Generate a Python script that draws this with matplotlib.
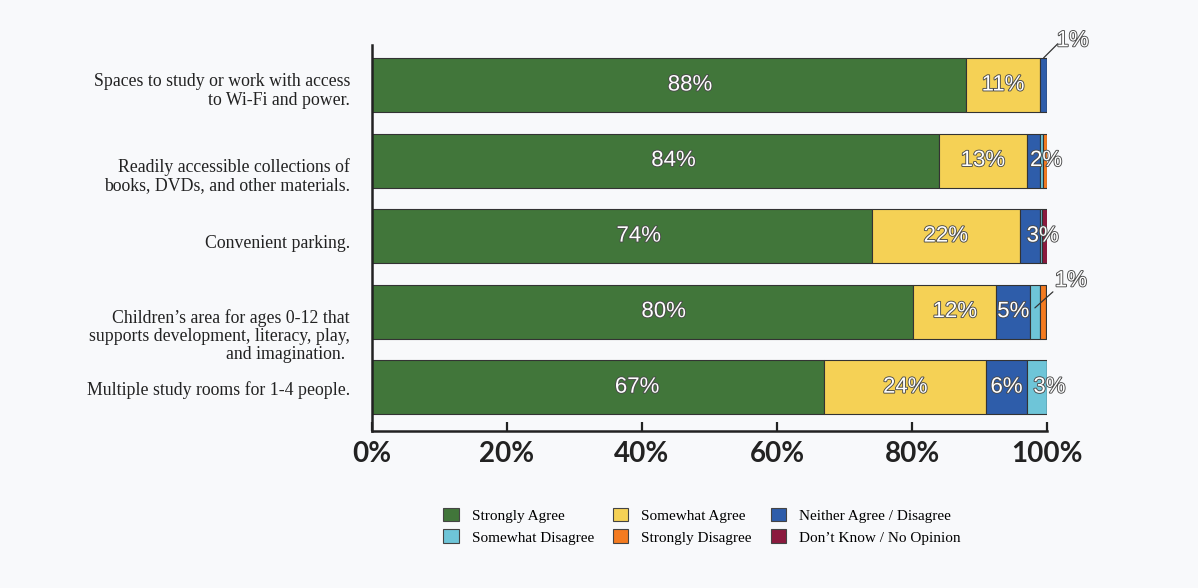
import matplotlib.pyplot as plt
import matplotlib.patheffects as pe
from matplotlib.patches import Patch
import numpy as np

categories = [
    "Spaces to study or work with access\nto Wi-Fi and power.",
    "Readily accessible collections of\nbooks, DVDs, and other materials.",
    "Convenient parking.",
    "Children\u2019s area for ages 0-12 that\nsupports development, literacy, play,\nand imagination. ",
    "Multiple study rooms for 1-4 people.",
]
series_names = ["Strongly Agree", "Somewhat Agree", "Neither Agree / Disagree",
                "Somewhat Disagree", "Strongly Disagree", "Don\u2019t Know / No Opinion"]
strongly_agree = [88, 84, 74, 80.2, 67]
somewhat_agree = [11, 13, 22, 12.3, 24]
neither = [1, 2, 3, 5.0, 6]
somewhat_disagree = [0, 0.4, 0.3, 1.4, 3]
strongly_disagree = [0, 0.6, 0, 0.9, 0]
dont_know = [0, 0, 0.7, 0, 0]
ticks = [0, 20, 40, 60, 80, 100]

colors = ["#41763a", "#f5d155", "#2e5daa", "#6ec5d8", "#f47b20", "#8b1a3e"]
bg = "#f8f9fb"
series = [strongly_agree, somewhat_agree, neither, somewhat_disagree, strongly_disagree, dont_know]

# label tweaks (pixels), the original puts the green labels right of centre
green_shift = [21, 18, 17, 21, 39]
callout_anchor = {0: -0.36, 3: -0.05}
callout_line = {0: (14, 14), 3: (18, 16)}
callout_text = {0: (29, 17), 3: (36, 27)}

fig = plt.figure(figsize=(11.98, 5.88), dpi=100, facecolor=bg)
ax = fig.add_axes([0.3105, 0.267, 0.5635, 0.6565])
ax.set_facecolor(bg)

y = np.arange(len(categories))
left = np.zeros(len(categories))
outline = [pe.Stroke(linewidth=1.3, foreground="#4a4a4a"), pe.Normal()]
lbl = dict(color="white", fontsize=16, family="Liberation Sans", path_effects=outline,
           ha="center", va="center")

for k, (name, vals, col) in enumerate(zip(series_names, series, colors)):
    vals = np.array(vals, dtype=float)
    ax.barh(y, vals, left=left, height=0.715, color=col, edgecolor="#333333", linewidth=0.8)
    for i, v in enumerate(vals):
        cx = left[i] + v / 2
        if v >= 1.5:
            dx = green_shift[i] * 0.72 if k == 0 else (9 if v <= 3 else 0)
            ax.annotate(f"{v:.0f}%", xy=(cx, y[i]), xytext=(dx, 0), textcoords="offset points", **lbl)
        elif v >= 1:
            anchor = (cx, y[i] + callout_anchor[i])
            ax.annotate("", xy=anchor, xytext=callout_line[i], textcoords="offset pixels",
                        arrowprops=dict(arrowstyle="-", color="#333333", lw=0.9, shrinkA=0, shrinkB=0))
            ax.annotate(f"{v:.0f}%", xy=anchor, xytext=callout_text[i], textcoords="offset pixels", **lbl)
    left += vals

ax.set_xlim(0, 100)
ax.set_ylim(4.58, -0.53)
ax.set_yticks([])
ax.set_xticks(ticks)
ax.set_xticklabels([f"{t}%" for t in ticks], fontsize=20, family="Lato", fontweight="bold", color="#222222")
ax.tick_params(axis="x", direction="in", length=6.5, width=1.6, color="#222222", pad=7)
for s in ["top", "right"]:
    ax.spines[s].set_visible(False)
for s in ["left", "bottom"]:
    ax.spines[s].set_linewidth(1.8)
    ax.spines[s].set_color("#222222")

# category labels, nudged a little like the original
offsets = [6, 16, 7, 24, 3]
for i, (cat, off) in enumerate(zip(categories, offsets)):
    ax.annotate(cat, xy=(0, y[i]), xytext=(-22, -off), textcoords="offset pixels",
                ha="right", va="center", multialignment="right", fontsize=12.8,
                family="Liberation Serif", color="#222222", linespacing=1.08)

handles = [Patch(facecolor=c, edgecolor="#444444", linewidth=0.8) for c in colors]
order = [0, 3, 1, 4, 2, 5]
fig.legend([handles[k] for k in order], [series_names[k] for k in order],
           loc="center", bbox_to_anchor=(0.586, 0.1054), ncol=3, frameon=False,
           prop={"family": "Liberation Serif", "size": 11},
           handlelength=1.0, handleheight=1.0, handletextpad=0.85,
           columnspacing=1.25, labelspacing=0.45)

fig.savefig("out.png", dpi=100, facecolor=bg)
